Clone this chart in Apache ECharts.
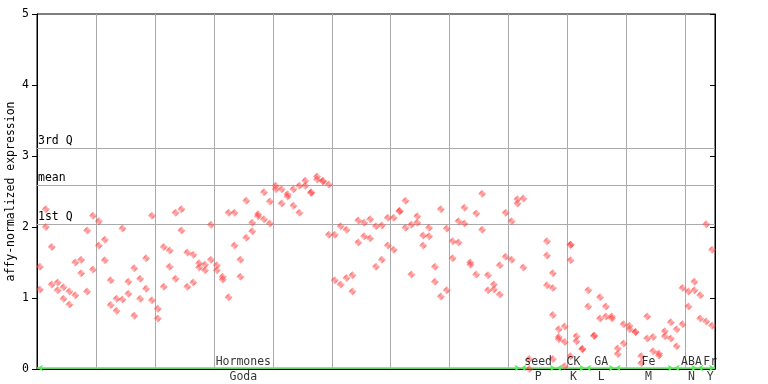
<!DOCTYPE html>
<html><head><meta charset="utf-8">
<script src="https://cdn.jsdelivr.net/npm/echarts@6/dist/echarts.min.js"></script>
<style>html,body{margin:0;padding:0;background:#fff}#c{width:768px;height:384px}</style>
</head><body><div id="c"></div>
<script>
// replicate 1 and replicate 2 per sample (index = sample number)
const repA = [1.44,2.25,1.72,1.22,1.15,1.09,1.50,1.54,1.95,2.16,
  2.08,1.82,1.25,0.99,1.98,1.23,1.42,1.27,1.56,2.16,
  0.85,1.72,1.67,2.20,2.25,1.64,1.61,1.49,1.47,2.03,
  1.46,1.30,2.20,2.20,1.54,2.37,2.06,2.18,2.49,2.36,
  2.58,2.53,2.46,2.53,2.58,2.65,2.49,2.71,2.65,2.60,
  1.89,2.01,1.96,1.32,2.09,2.06,2.11,2.01,2.02,2.13,
  2.13,2.23,2.37,2.03,2.15,1.88,1.99,1.44,2.25,1.98,
  1.80,2.08,2.27,1.50,2.19,2.47,1.32,1.19,1.46,2.20,
  2.08,2.39,2.40,0.14,null,null,1.80,1.35,0.56,0.60,
  1.75,0.46,0.28,1.11,0.47,1.01,0.88,0.74,0.29,0.63,
  0.61,0.52,0.18,0.74,0.45,0.22,0.53,0.66,0.56,1.14,
  1.09,1.23,1.04,2.04,1.68];
const repB = [1.12,2.00,1.19,1.11,0.99,0.91,1.04,1.35,1.09,1.40,
  1.74,1.53,0.90,0.82,0.98,1.06,0.75,0.99,1.13,0.97,
  0.71,1.16,1.44,1.27,1.95,1.16,1.22,1.43,1.39,1.54,
  1.39,1.26,1.01,1.74,1.30,1.85,1.94,2.15,2.11,2.05,
  2.53,2.33,2.43,2.30,2.20,2.58,2.48,2.67,2.64,1.89,
  1.25,1.19,1.28,1.09,1.78,1.87,1.84,1.44,1.54,1.74,
  1.68,2.22,1.99,1.33,2.06,1.74,1.87,1.23,1.02,1.11,
  1.56,1.78,2.05,1.47,1.33,1.96,1.11,1.12,1.05,1.58,
  1.54,2.33,1.43,0.00,null,null,1.18,1.14,0.45,0.38,
  1.75,0.39,0.28,0.88,0.47,0.71,0.74,0.71,0.21,0.36,
  0.56,0.52,0.08,0.43,0.25,0.19,0.46,0.43,0.32,0.63,
  0.88,1.11,0.71,0.67,0.61];
const extraIdx = [86,87,87,88,89,90,90];
const extraVal = [1.60,0.76,0.14,0.42,0.04,1.53,0.18];
const refNames = ['3rd Q','mean','1st Q'];
const refValues = [3.11,2.585,2.04];
const groupNames = ['Hormones','seed','CK','GA','Fe','ABA','Fr'];
const groupSubs = ['Goda','P','K','L','M','N','Y'];
const groupStart = [0,82,88,93,98,108,112];
const groupEnd = [81,87,92,97,107,111,114];
const groupLabelAt = [35,85,91,95.7,103.7,111,114.2];
const yTicks = [0,1,2,3,4,5];
const yTitle = 'affy-normalized expression';
const nSamples = 115;

const FONT = 'DejaVu Sans Mono';
const pc = document.createElement('canvas'); pc.width = 2; pc.height = 2;
const pctx = pc.getContext('2d'); pctx.fillStyle = '#ff3c3c';
pctx.fillRect(0,0,1,1); pctx.fillRect(1,1,1,1);
pctx.fillStyle = 'rgba(255,120,120,0.35)'; pctx.fillRect(1,0,1,1); pctx.fillRect(0,1,1,1);
const patternFill = {image: pc, repeat: 'repeat'};

const pts = [];
repA.forEach((v,i)=>{ if (v!==null) pts.push([i+0.5, v]); });
repB.forEach((v,i)=>{ if (v!==null) pts.push([i+0.5, v]); });
extraIdx.forEach((i,k)=>pts.push([i+0.5, extraVal[k]]));

const chart = echarts.init(document.getElementById('c'), null, {renderer:'canvas'});
const greenY = 0.014;
chart.setOption({
  animation: false,
  grid: {left:37, right:53, top:14, bottom:15, containLabel:false, outerBoundsMode:'none',
    show:true, borderColor:'#000', borderWidth:1, backgroundColor:'transparent'},
  graphic: [{type:'text', x:11.5, y:191.5, rotation:Math.PI/2,
    style:{text:yTitle, font:'11.5px "DejaVu Sans Mono"', fill:'#000', align:'center', verticalAlign:'middle'}}],
  xAxis: {type:'value', min:0, max:nSamples, interval:10,
    axisLine:{show:true, lineStyle:{color:'#000', width:1}}, axisTick:{show:false}, axisLabel:{show:false},
    splitLine:{show:true, lineStyle:{color:'#aaaaaa', width:1}}},
  yAxis: [{type:'value', min:yTicks[0], max:yTicks[yTicks.length-1], interval:1,
    axisLine:{show:true, lineStyle:{color:'#000'}}, axisTick:{show:true, length:5, lineStyle:{color:'#000'}},
    axisLabel:{margin:8, fontFamily:FONT, fontSize:11.5, color:'#000'}, splitLine:{show:false}},
   {type:'value', min:yTicks[0], max:yTicks[yTicks.length-1], interval:1, position:'right',
    axisLine:{show:true, lineStyle:{color:'#000'}}, axisTick:{show:true, inside:true, length:5, lineStyle:{color:'#000'}},
    axisLabel:{show:false}, splitLine:{show:false}}],
  series: [
    {type:'scatter', data: pts, symbol:'diamond', symbolSize:8, z:5,
     itemStyle:{color: patternFill}, emphasis:{disabled:true},
     markLine:{silent:true, symbol:['none','none'], precision:4,
       lineStyle:{color:'#aaaaaa', width:1, type:'solid'},
       label:{show:true, position:'insideStartTop', distance:[1,1], fontFamily:FONT, fontSize:11.5, color:'#000', formatter:'{b}'},
       data: refNames.map((n,k)=>({name:n, yAxis:refValues[k]}))}},
    {type:'scatter', data: [], silent:true,
     markLine:{silent:true, symbol:['arrow','arrow'], symbolSize:[5,6], precision:4,
       lineStyle:{color:'#55ee55', width:1.5, type:'solid'}, label:{show:false},
       data: groupStart.map((s,k)=>[{coord:[s, greenY]},{coord:[groupEnd[k]+1, greenY]}])}},
    {type:'scatter', symbolSize:0, silent:true, z:6,
     data: groupNames.map((n,k)=>({value:[groupLabelAt[k],0], name:n})),
     label:{show:true, position:'top', distance:1, formatter:'{b}', fontFamily:FONT, fontSize:11.5, color:'#000'}},
    {type:'scatter', symbolSize:0, silent:true, z:6,
     data: groupSubs.map((n,k)=>({value:[groupLabelAt[k],0], name:n})),
     label:{show:true, position:'bottom', distance:2, formatter:'{b}', fontFamily:FONT, fontSize:11.5, color:'#000'}}
  ]
});
</script></body></html>
